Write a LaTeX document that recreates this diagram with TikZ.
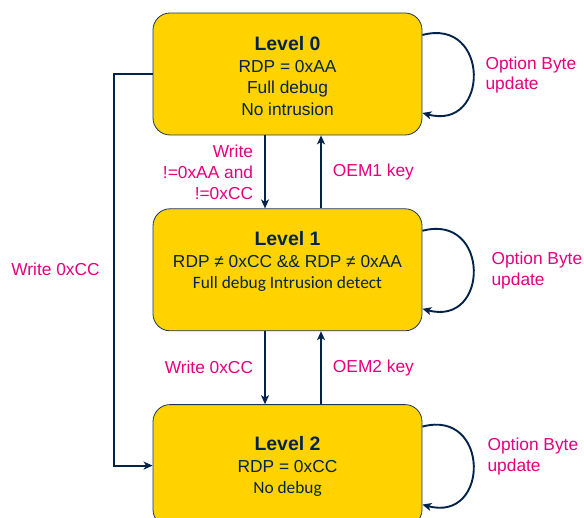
\documentclass[tikz,border=0pt]{standalone}
\usepackage{fontspec}
\setmainfont{Liberation Sans}
\newfontfamily\carlito{Carlito}
\usetikzlibrary{positioning,arrows.meta}
\definecolor{styellow}{HTML}{FFD200}
\definecolor{stpink}{HTML}{E6007E}
\definecolor{stnavy}{HTML}{03234B}
\newcommand{\lvltitle}[1]{{\fontsize{19.5}{21.5}\selectfont\bfseries #1}}

\begin{document}
\begin{tikzpicture}[x=1bp,y=1bp,>={Stealth[length=9bp,width=8bp,inset=2.5bp]},%
node distance=73bp,
level/.style={draw=stnavy!80!gray,line width=0.8bp,fill=styellow,rounded corners=17bp,
  minimum width=269bp,minimum height=122bp},
lvltext/.style={text=stnavy,align=center,font=\fontsize{17.4}{21.5}\selectfont},
cond/.style={text=stpink,inner sep=0pt,font=\fontsize{17.4}{21}\selectfont},
flow/.style={->,draw=stnavy,line width=1.9bp}]
\useasboundingbox (0,0) rectangle (584,518);
\node[level] (L0) at (287.5,444) {};
\node[level] (L1) [below=of L0] {};
\node[level] (L2) [below=of L1] {};
\node[lvltext] (T0) at ([yshift=-2bp]L0.center)
  {\lvltitle{Level 0}\\RDP = 0xAA\\Full debug\\No intrusion};
\node[lvltext] (T1) at ([yshift=8bp]L1.center)
  {\lvltitle{Level 1}\\RDP ≠ 0xCC \&\& RDP ≠ 0xAA\\{\carlito Full debug Intrusion detect}};
\node[lvltext] (T2) at ([yshift=-1bp]L2.center)
  {\lvltitle{Level 2}\\RDP = 0xCC\\{\carlito No debug}};

% up and down between neighbouring levels
\draw[flow] ([xshift=-22.5bp]L0.south) -- node[cond,left=11bp,align=right] {Write\\!=0xAA and\\!=0xCC} ([xshift=-22.5bp]L1.north);
\draw[flow] ([xshift=33.5bp]L1.north) -- node[cond,right=11bp] {OEM1 key} ([xshift=33.5bp]L0.south);
\draw[flow] ([xshift=-22.5bp]L1.south) -- node[cond,left=11bp] {Write 0xCC} ([xshift=-22.5bp]L2.north);
\draw[flow] ([xshift=33.5bp]L2.north) -- node[cond,right=11bp] {OEM2 key} ([xshift=33.5bp]L1.south);

% straight from level 0 to level 2
\draw[flow] (L0.west) -- ++(-39bp,0) coordinate (c0)
  -- node[cond,left=13bp] {Write 0xCC} (c0 |- L2.west) -- (L2.west);

% option byte loops
\foreach \l/\dx/\dy in {L0/63/-1,L1/69/-1,L2/65/9} {
  \draw[flow] ([yshift=39bp]\l.east) to[out=15,in=-15,looseness=2.3] ([yshift=-39bp]\l.east);
  \node[cond,anchor=west,align=left] (ob\l) at ([xshift=\dx bp,yshift=\dy bp]\l.east) {Option Byte\\update};
}
\end{tikzpicture}
\end{document}
